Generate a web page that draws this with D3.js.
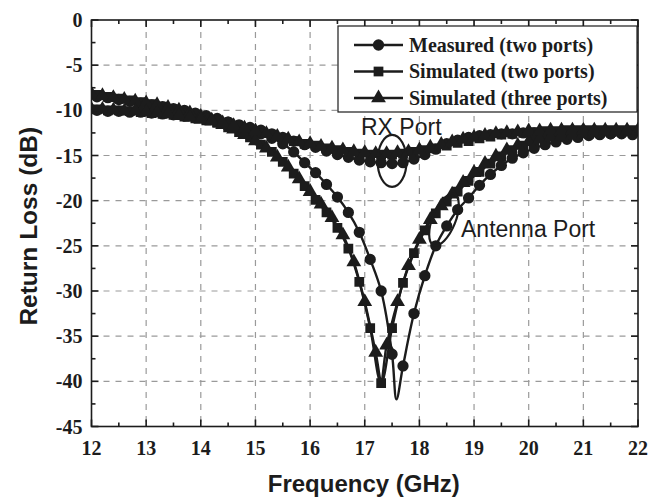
<!DOCTYPE html>
<html><head><meta charset="utf-8">
<script src="https://cdn.jsdelivr.net/npm/d3@7"></script>
<style>body{margin:0;background:#fff}svg{display:block}</style>
</head><body>
<svg id="c" width="667" height="498"></svg>
<script>
// ---- data ----
const xTicks = [12,13,14,15,16,17,18,19,20,21,22];
const yTicks = [0,-5,-10,-15,-20,-25,-30,-35,-40,-45];
const seriesNames = ["Measured (two ports)","Simulated (two ports)","Simulated (three ports)"];
const annotations = ["RX Port","Antenna Port"];

// Antenna port curves [GHz, dB]
const measuredAnt = [[12.0,-8.4],[12.1,-8.5],[12.3,-8.6],[12.5,-8.8],[12.7,-9.0],[12.9,-9.2],[13.1,-9.4],[13.3,-9.6],[13.5,-9.8],[13.7,-10.0],[13.9,-10.3],[14.1,-10.6],[14.3,-10.9],[14.5,-11.3],[14.7,-11.7],[14.9,-12.1],[15.1,-12.6],[15.3,-13.1],[15.5,-13.7],[15.7,-14.6],[15.9,-15.8],[16.1,-16.9],[16.3,-18.2],[16.5,-19.6],[16.7,-21.3],[16.9,-23.5],[17.1,-26.5],[17.3,-30.0],[17.5,-37.0],[17.58,-42.0],[17.7,-38.3],[17.9,-32.5],[18.1,-28.3],[18.3,-25.0],[18.5,-22.8],[18.7,-21.0],[18.9,-19.7],[19.1,-18.3],[19.3,-17.1],[19.5,-16.1],[19.7,-15.3],[19.9,-14.7],[20.1,-14.2],[20.3,-13.8],[20.5,-13.5],[20.7,-13.2],[20.9,-13.0],[21.1,-12.8],[21.3,-12.7],[21.5,-12.6],[21.7,-12.5],[21.9,-12.4],[22.0,-12.4]];
const sim2Ant = [[12.0,-8.2],[12.1,-8.3],[12.3,-8.5],[12.5,-8.7],[12.7,-8.9],[12.9,-9.1],[13.1,-9.3],[13.3,-9.6],[13.5,-9.9],[13.7,-10.2],[13.9,-10.5],[14.1,-10.9],[14.3,-11.4],[14.5,-11.9],[14.7,-12.4],[14.9,-13.0],[15.1,-13.8],[15.3,-14.6],[15.5,-15.7],[15.7,-17.0],[15.9,-18.4],[16.1,-19.9],[16.3,-21.3],[16.5,-23.0],[16.7,-25.3],[16.9,-29.0],[17.1,-34.1],[17.3,-40.2],[17.5,-34.1],[17.7,-29.1],[17.9,-25.8],[18.1,-23.3],[18.3,-21.4],[18.5,-20.1],[18.7,-19.0],[18.9,-17.8],[19.1,-16.8],[19.3,-15.9],[19.5,-15.1],[19.7,-14.4],[19.9,-13.9],[20.1,-13.5],[20.3,-13.2],[20.5,-13.0],[20.7,-12.8],[20.9,-12.7],[21.1,-12.6],[21.3,-12.5],[21.5,-12.4],[21.7,-12.4],[21.9,-12.3],[22.0,-12.3]];
const sim3Ant = [[12.0,-8.2],[12.2,-8.4],[12.4,-8.6],[12.6,-8.8],[12.8,-9.0],[13.0,-9.2],[13.2,-9.4],[13.4,-9.7],[13.6,-10.0],[13.8,-10.3],[14.0,-10.7],[14.2,-11.1],[14.4,-11.6],[14.6,-12.1],[14.8,-12.7],[15.0,-13.4],[15.2,-14.2],[15.4,-15.2],[15.6,-16.3],[15.8,-17.6],[16.0,-19.0],[16.2,-20.4],[16.4,-21.9],[16.6,-23.8],[16.8,-26.8],[17.0,-31.2],[17.2,-36.8],[17.3,-39.8],[17.4,-36.0],[17.6,-31.2],[17.8,-27.2],[18.0,-24.3],[18.2,-22.1],[18.4,-20.6],[18.6,-19.3],[18.8,-18.0],[19.0,-16.9],[19.2,-15.9],[19.4,-15.1],[19.6,-14.4],[19.8,-13.9],[20.0,-13.5],[20.2,-13.2],[20.4,-13.0],[20.6,-12.8],[20.8,-12.7],[21.0,-12.6],[21.2,-12.5],[21.4,-12.4],[21.6,-12.4],[21.8,-12.3],[22.0,-12.3]];

// RX port curves [GHz, dB]
const measuredRx = [[12.0,-10.0],[12.1,-10.0],[12.3,-10.1],[12.5,-10.1],[12.7,-10.2],[12.9,-10.2],[13.1,-10.3],[13.3,-10.4],[13.5,-10.5],[13.7,-10.6],[13.9,-10.7],[14.1,-10.9],[14.3,-11.1],[14.5,-11.3],[14.7,-11.6],[14.9,-11.9],[15.1,-12.2],[15.3,-12.6],[15.5,-13.0],[15.7,-13.4],[15.9,-13.8],[16.1,-14.1],[16.3,-14.5],[16.5,-14.9],[16.7,-15.2],[16.9,-15.5],[17.1,-15.7],[17.3,-15.8],[17.5,-15.9],[17.7,-15.8],[17.9,-15.4],[18.1,-14.9],[18.3,-14.3],[18.5,-13.7],[18.7,-13.3],[18.9,-13.0],[19.1,-12.8],[19.3,-12.7],[19.5,-12.6],[19.7,-12.6],[19.9,-12.5],[20.1,-12.5],[20.3,-12.5],[20.5,-12.5],[20.7,-12.5],[20.9,-12.5],[21.1,-12.5],[21.3,-12.5],[21.5,-12.6],[21.7,-12.6],[21.9,-12.7],[22.0,-12.7]];
const sim2Rx = [[12.0,-9.9],[12.1,-9.9],[12.3,-10.0],[12.5,-10.0],[12.7,-10.1],[12.9,-10.2],[13.1,-10.3],[13.3,-10.4],[13.5,-10.5],[13.7,-10.7],[13.9,-10.9],[14.1,-11.1],[14.3,-11.3],[14.5,-11.6],[14.7,-11.9],[14.9,-12.2],[15.1,-12.5],[15.3,-12.8],[15.5,-13.1],[15.7,-13.4],[15.9,-13.7],[16.1,-13.9],[16.3,-14.2],[16.5,-14.4],[16.7,-14.6],[16.9,-14.8],[17.1,-14.9],[17.3,-14.9],[17.5,-14.9],[17.7,-14.8],[17.9,-14.6],[18.1,-14.4],[18.3,-14.2],[18.5,-13.9],[18.7,-13.6],[18.9,-13.4],[19.1,-13.1],[19.3,-12.9],[19.5,-12.7],[19.7,-12.6],[19.9,-12.5],[20.1,-12.4],[20.3,-12.3],[20.5,-12.3],[20.7,-12.2],[20.9,-12.2],[21.1,-12.2],[21.3,-12.2],[21.5,-12.2],[21.7,-12.2],[21.9,-12.2],[22.0,-12.2]];
const sim3Rx = [[12.0,-9.9],[12.2,-9.9],[12.4,-10.0],[12.6,-10.1],[12.8,-10.1],[13.0,-10.2],[13.2,-10.3],[13.4,-10.4],[13.6,-10.6],[13.8,-10.8],[14.0,-11.0],[14.2,-11.2],[14.4,-11.4],[14.6,-11.7],[14.8,-12.0],[15.0,-12.3],[15.2,-12.6],[15.4,-12.9],[15.6,-13.2],[15.8,-13.5],[16.0,-13.7],[16.2,-14.0],[16.4,-14.2],[16.6,-14.4],[16.8,-14.6],[17.0,-14.7],[17.2,-14.8],[17.4,-14.8],[17.6,-14.7],[17.8,-14.6],[18.0,-14.4],[18.2,-14.1],[18.4,-13.8],[18.6,-13.5],[18.8,-13.2],[19.0,-13.0],[19.2,-12.8],[19.4,-12.6],[19.6,-12.5],[19.8,-12.4],[20.0,-12.3],[20.2,-12.3],[20.4,-12.2],[20.6,-12.2],[20.8,-12.2],[21.0,-12.2],[21.2,-12.2],[21.4,-12.2],[21.6,-12.2],[21.8,-12.2],[22.0,-12.2]];

// ---- layout ----
const W=667,H=498;
const M={left:91.5,right:29,top:20,bottom:71.5};
const iw=W-M.left-M.right, ih=H-M.top-M.bottom;
const ink="#1c1c1c";
const svg=d3.select("#c");
const x=d3.scaleLinear().domain([12,22]).range([M.left,M.left+iw]);
const y=d3.scaleLinear().domain([-45,0]).range([M.top+ih,M.top]);

svg.append("defs").append("clipPath").attr("id","clip")
  .append("rect").attr("x",M.left).attr("y",M.top).attr("width",iw).attr("height",ih);

// grid
const grid=svg.append("g").attr("stroke","#9a9a9a").attr("stroke-width",1.2).attr("stroke-dasharray","6,6");
grid.selectAll(".gx").data(xTicks.slice(1,-1)).join("line")
  .attr("x1",d=>x(d)).attr("x2",d=>x(d)).attr("y1",M.top).attr("y2",M.top+ih);
grid.selectAll(".gy").data(yTicks.slice(1,-1)).join("line")
  .attr("y1",d=>y(d)).attr("y2",d=>y(d)).attr("x1",M.left).attr("x2",M.left+iw);

// curves
const line=d3.line().x(d=>x(d[0])).y(d=>y(d[1])).curve(d3.curveCatmullRom.alpha(0.5));
const isOdd=d=>Math.abs(Math.round(d[0]*100)%20-10)<1;   // markers at odd tenths
const isEven=d=>Math.abs(Math.round(d[0]*100)%20)<1;     // markers at even tenths
const curves=[
  {data:measuredAnt, sym:"circle", pick:isOdd},
  {data:measuredRx,  sym:"circle", pick:isOdd},
  {data:sim2Ant,     sym:"square", pick:isOdd},
  {data:sim2Rx,      sym:"square", pick:isOdd},
  {data:sim3Ant,     sym:"triangle", pick:isEven},
  {data:sim3Rx,      sym:"triangle", pick:isEven},
];
const symType={circle:d3.symbolCircle,square:d3.symbolSquare,triangle:d3.symbolTriangle};
const symSize={circle:100,square:95,triangle:95};
const plot=svg.append("g").attr("clip-path","url(#clip)");
curves.forEach(c=>{
  plot.append("path").attr("d",line(c.data)).attr("fill","none").attr("stroke",ink).attr("stroke-width",2.4);
});
curves.forEach(c=>{
  plot.selectAll(null).data(c.data.filter(c.pick)).join("path")
    .attr("transform",d=>`translate(${x(d[0])},${y(d[1])})`)
    .attr("d",d3.symbol().type(symType[c.sym]).size(symSize[c.sym])())
    .attr("fill",ink);
});

// axes frame with inward ticks (major + minor), mirrored
const axG=svg.append("g").attr("stroke",ink).attr("stroke-width",1.6);
axG.append("rect").attr("x",M.left).attr("y",M.top).attr("width",iw).attr("height",ih).attr("fill","none");
const xMinor=d3.range(12.5,22,1), yMinor=d3.range(-42.5,0,5);
function xt(vals,len){
  vals.forEach(v=>{
    axG.append("line").attr("x1",x(v)).attr("x2",x(v)).attr("y1",M.top+ih).attr("y2",M.top+ih-len);
    axG.append("line").attr("x1",x(v)).attr("x2",x(v)).attr("y1",M.top).attr("y2",M.top+len);
  });
}
function yt(vals,len){
  vals.forEach(v=>{
    axG.append("line").attr("y1",y(v)).attr("y2",y(v)).attr("x1",M.left).attr("x2",M.left+len);
    axG.append("line").attr("y1",y(v)).attr("y2",y(v)).attr("x1",M.left+iw).attr("x2",M.left+iw-len);
  });
}
xt(xTicks,7); xt(xMinor,4); yt(yTicks,7); yt(yMinor,4);

// tick labels
const serif="'Liberation Serif','Times New Roman',serif";
const sans="'Liberation Sans',Arial,sans-serif";
svg.append("g").selectAll("text").data(xTicks).join("text")
  .attr("x",d=>x(d)).attr("y",M.top+ih+28).attr("text-anchor","middle")
  .attr("font-family",serif).attr("font-weight","bold").attr("font-size",20).attr("fill",ink).text(d=>d);
svg.append("g").selectAll("text").data(yTicks).join("text")
  .attr("x",M.left-9).attr("y",d=>y(d)+7).attr("text-anchor","end")
  .attr("font-family",serif).attr("font-weight","bold").attr("font-size",20).attr("fill",ink).text(d=>d);

// axis titles
svg.append("text").attr("x",x(17)-1).attr("y",492).attr("text-anchor","middle")
  .attr("font-family",sans).attr("font-weight","bold").attr("font-size",24).attr("fill",ink).text("Frequency (GHz)");
svg.append("text").attr("transform",`translate(37,${y(-22.5)+3}) rotate(-90)`).attr("text-anchor","middle")
  .attr("font-family",sans).attr("font-weight","bold").attr("font-size",24.5).attr("fill",ink).text("Return Loss (dB)");

// legend
const lg=svg.append("g");
lg.append("rect").attr("x",338).attr("y",26).attr("width",299).attr("height",86).attr("fill","#fff").attr("stroke",ink).attr("stroke-width",1.2);
const legSyms=["circle","square","triangle"];
seriesNames.forEach((n,i)=>{
  const cy=45+i*26.5;
  lg.append("line").attr("x1",354).attr("x2",403).attr("y1",cy).attr("y2",cy).attr("stroke",ink).attr("stroke-width",2.4);
  lg.append("path").attr("transform",`translate(378.5,${cy})`).attr("d",d3.symbol().type(symType[legSyms[i]]).size(symSize[legSyms[i]])()).attr("fill",ink);
  lg.append("text").attr("x",409).attr("y",cy+6.5).attr("font-family",serif).attr("font-weight","bold").attr("font-size",20).attr("fill",ink).text(n);
});

// annotations
const ann=svg.append("g").attr("fill","none").attr("stroke",ink).attr("stroke-width",2.2);
svg.append("text").attr("x",361).attr("y",135).attr("font-family",sans).attr("font-size",23).attr("fill",ink).text(annotations[0]);
ann.append("ellipse").attr("cx",x(17.5)).attr("cy",y(-15.6)).attr("rx",14.5).attr("ry",26);
svg.append("text").attr("x",461).attr("y",237).attr("font-family",sans).attr("font-size",23).attr("fill",ink).text(annotations[1]);
ann.append("ellipse").attr("transform",`translate(${x(18.45)},${y(-22.1)}) rotate(22)`).attr("rx",11.5).attr("ry",27.5);
</script>
</body></html>
